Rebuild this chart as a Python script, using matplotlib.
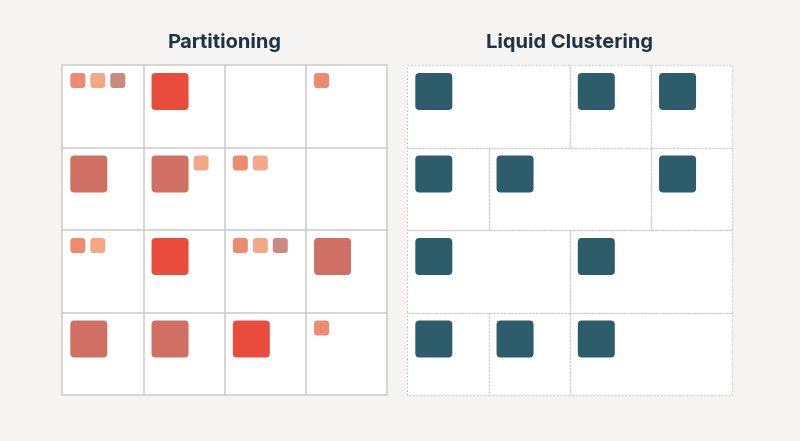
import matplotlib.pyplot as plt
from matplotlib.patches import FancyBboxPatch, Rectangle

# file colours
colors = {
    "red": "#E94B3C",
    "salmon": "#D06F63",
    "s1": "#EC8A72",
    "s2": "#F3A887",
    "s3": "#C98A80",
    "teal": "#2D5D6B",
}

titles = ["Partitioning", "Liquid Clustering"]

# partitioning: (row, col, files in the cell)
part_rows = [0, 0, 0, 1, 1, 1, 2, 2, 2, 2, 3, 3, 3, 3]
part_cols = [0, 1, 3, 0, 1, 2, 0, 1, 2, 3, 0, 1, 2, 3]
part_files = [
    ["s1", "s2", "s3"], ["red"], ["s1"],
    ["salmon"], ["salmon", "s2"], ["s1", "s2"],
    ["s1", "s2"], ["red"], ["s1", "s2", "s3"], ["salmon"],
    ["salmon"], ["salmon"], ["red"], ["s1"],
]

# liquid clustering: (row, first col, span)
lc_rows = [0, 0, 0, 1, 1, 1, 2, 2, 3, 3, 3]
lc_cols = [0, 2, 3, 0, 1, 3, 0, 2, 0, 1, 2]
lc_spans = [2, 1, 1, 1, 2, 1, 2, 2, 1, 1, 2]

fig = plt.figure(figsize=(8, 4.41), dpi=100)
fig.patch.set_facecolor("#F5F4F2")
ax = fig.add_axes([0, 0, 1, 1])
ax.set_xlim(0, 800)
ax.set_ylim(441, 0)
ax.axis("off")

grid_x = [62.3, 407.3]
grid_y = 65
cw, ch = 81.25, 82.5
big, small, gap, pad = 37, 15, 5, 8


def square(x, y, size, color):
    r = 4 if size > 20 else 3
    ax.add_patch(FancyBboxPatch((x, y), size, size,
                                boxstyle=f"round,pad=0,rounding_size={r}",
                                facecolor=color, edgecolor="none", zorder=3))


# left grid
x0 = grid_x[0]
ax.add_patch(Rectangle((x0, grid_y), 4 * cw, 4 * ch, facecolor="white",
                       edgecolor="#CCCCCC", lw=1.1, zorder=1))
for i in range(1, 4):
    ax.plot([x0 + i * cw] * 2, [grid_y, grid_y + 4 * ch], color="#CCCCCC", lw=1.1, zorder=2)
    ax.plot([x0, x0 + 4 * cw], [grid_y + i * ch] * 2, color="#CCCCCC", lw=1.1, zorder=2)

for r, c, files in zip(part_rows, part_cols, part_files):
    x = x0 + c * cw + pad
    y = grid_y + r * ch + pad
    for f in files:
        s = big if f in ("red", "salmon") else small
        square(x, y, s, colors[f])
        x += s + gap

# right grid
x0 = grid_x[1]
ax.add_patch(Rectangle((x0, grid_y), 4 * cw, 4 * ch, facecolor="white",
                       edgecolor="none", zorder=1))
dot = dict(color="#D4D4D4", lw=0.95, linestyle=(0, (1.6, 1.1)), zorder=2)
for r, c, span in zip(lc_rows, lc_cols, lc_spans):
    bx = x0 + c * cw
    by = grid_y + r * ch
    ax.plot([bx, bx + span * cw, bx + span * cw, bx, bx],
            [by, by, by + ch, by + ch, by], **dot)
    square(bx + pad, by + pad, big, colors["teal"])

for gx, t in zip(grid_x, titles):
    ax.text(gx + 2 * cw, 43, t, ha="center", va="center", fontsize=14.5,
            fontweight="bold", family=["Inter", "DejaVu Sans"], color="#1E3441")

fig.savefig("out.png", dpi=100, facecolor=fig.get_facecolor())
